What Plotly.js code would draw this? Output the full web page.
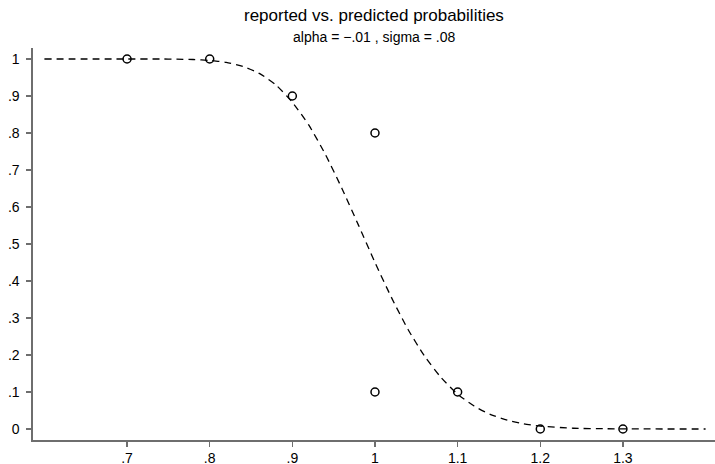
<!DOCTYPE html>
<html>
<head>
<meta charset="utf-8">
<script src="https://cdn.plot.ly/plotly-3.0.1.min.js"></script>
<style>html,body{margin:0;padding:0;background:#fff;}#chart{width:715px;height:464px;}</style>
</head>
<body>
<div id="chart"></div>
<script>
// reported probabilities (points)
const reportedX = [0.7, 0.8, 0.9, 1.0, 1.0, 1.1, 1.2, 1.3];
const reportedY = [1.0, 1.0, 0.9, 0.8, 0.1, 0.1, 0.0, 0.0];

// predicted probability curve
const predictedX = [0.60, 0.70, 0.74, 0.76, 0.78, 0.80, 0.82, 0.84, 0.86, 0.88, 0.90, 0.92, 0.94, 0.96, 0.98, 1.00,
                    1.02, 1.04, 1.06, 1.08, 1.10, 1.12, 1.14, 1.16, 1.18, 1.20, 1.24, 1.28, 1.32, 1.40];
const predictedY = [1.000, 1.000, 1.000, 0.9995, 0.9986, 0.996, 0.991, 0.980, 0.961, 0.930, 0.883, 0.821, 0.742, 0.650, 0.551, 0.450,
                    0.355, 0.269, 0.197, 0.139, 0.094, 0.062, 0.039, 0.024, 0.014, 0.008, 0.002, 0.0007, 0.0002, 0.000];

const xTickVals = [0.7, 0.8, 0.9, 1.0, 1.1, 1.2, 1.3];
const xTickText = [".7", ".8", ".9", "1", "1.1", "1.2", "1.3"];
const yTickVals = [0, 0.1, 0.2, 0.3, 0.4, 0.5, 0.6, 0.7, 0.8, 0.9, 1];
const yTickText = ["0", ".1", ".2", ".3", ".4", ".5", ".6", ".7", ".8", ".9", "1"];

const titleText = "reported vs. predicted probabilities";
const subtitleText = "alpha = \u2212.01 , sigma = .08";

const fontFam = "Liberation Sans, Arial, Helvetica, sans-serif";

const traces = [
  {
    x: predictedX, y: predictedY, type: "scatter", mode: "lines",
    line: {color: "#000", width: 1.3, dash: "7px,5px", shape: "spline", smoothing: 0.6},
    hoverinfo: "skip", showlegend: false
  },
  {
    x: reportedX, y: reportedY, type: "scatter", mode: "markers",
    marker: {symbol: "circle-open", size: 8, color: "#000", line: {width: 1.5, color: "#000"}},
    showlegend: false
  }
];

const axisCommon = {
  showgrid: false, zeroline: false, showline: true, linecolor: "#6e6e6e", linewidth: 1.6,
  ticks: "outside", ticklen: 5, tickwidth: 1.2, tickcolor: "#6e6e6e",
  tickfont: {family: fontFam, size: 14, color: "#000"}, fixedrange: true
};

const layout = {
  width: 715, height: 464,
  margin: {l: 33, r: 0, t: 48, b: 24, pad: 0},
  paper_bgcolor: "#fff", plot_bgcolor: "#fff",
  font: {family: fontFam, color: "#000"},
  annotations: [
    {
      text: titleText, xref: "paper", yref: "paper", x: 0.5, y: 1, yshift: 33,
      showarrow: false, font: {family: fontFam, size: 17, color: "#000"}, xanchor: "center", yanchor: "middle"
    },
    {
      text: subtitleText, xref: "paper", yref: "paper", x: 0.5, y: 1, yshift: 11,
      showarrow: false, font: {family: fontFam, size: 14, color: "#000"}, xanchor: "center", yanchor: "middle"
    }
  ],
  xaxis: Object.assign({}, axisCommon, {range: [0.5862, 1.4114], tickvals: xTickVals, ticktext: xTickText}),
  yaxis: Object.assign({}, axisCommon, {range: [-0.0297, 1.0297], tickvals: yTickVals, ticktext: yTickText, ticklabelstandoff: 4})
};

Plotly.newPlot("chart", traces, layout, {displayModeBar: false, staticPlot: true});
</script>
</body>
</html>
